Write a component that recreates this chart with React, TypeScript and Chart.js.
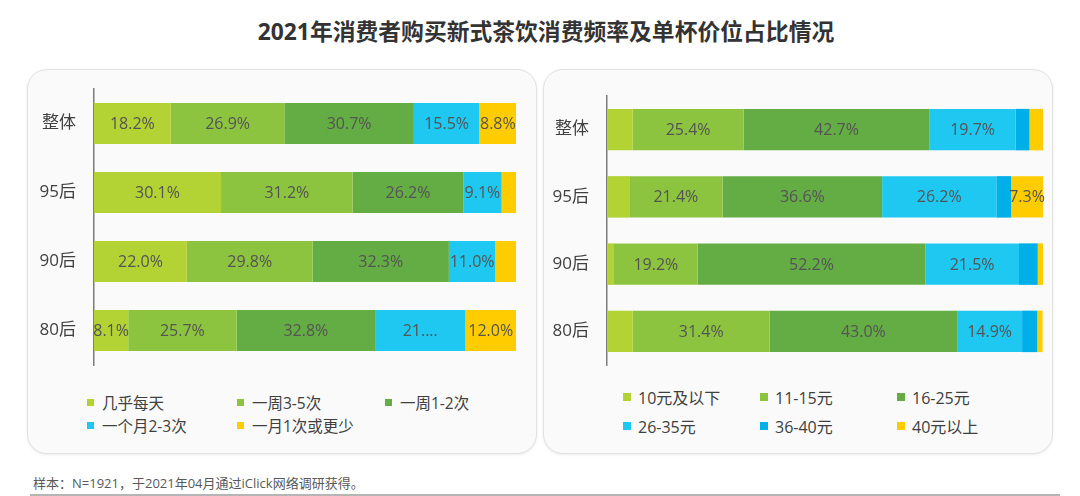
import React, { useEffect, useRef } from "react";
import { Chart, registerables } from "chart.js";

Chart.register(...registerables);

const TITLE = "2021年消费者购买新式茶饮消费频率及单杯价位占比情况";
const FOOTNOTE = "样本：N=1921，于2021年04月通过iClick网络调研获得。";

const categories = ["整体", "95后", "90后", "80后"];

// Left chart: consumption frequency
const freqSeries = ["几乎每天", "一周3-5次", "一周1-2次", "一个月2-3次", "一月1次或更少"];
const freqDaily = [18.2, 30.1, 22.0, 8.1];
const freqWeek35 = [26.9, 31.2, 29.8, 25.7];
const freqWeek12 = [30.7, 26.2, 32.3, 32.8];
const freqMonth23 = [15.5, 9.1, 11.0, 21.4];
const freqMonth1 = [8.8, 3.4, 4.9, 12.0];
const freqColors = ["#B3D234", "#8DC43F", "#64AD44", "#1EC8F1", "#FFCC00"];
const freqLabelOverrides: Record<string, string> = { "3-3": "21...." };

// Right chart: price per cup
const priceSeries = ["10元及以下", "11-15元", "16-25元", "26-35元", "36-40元", "40元以上"];
const priceUnder10 = [5.9, 5.1, 1.6, 5.9];
const price11to15 = [25.4, 21.4, 19.2, 31.4];
const price16to25 = [42.7, 36.6, 52.2, 43.0];
const price26to35 = [19.7, 26.2, 21.5, 14.9];
const price36to40 = [3.2, 3.4, 4.3, 3.5];
const priceOver40 = [3.1, 7.3, 1.2, 1.2];
const priceColors = ["#B3D234", "#8DC43F", "#64AD44", "#1EC8F1", "#00AEE8", "#FFCC00"];

const LABEL_MIN = 7;
const FONT = "'Open Sans', 'Noto Sans CJK SC', sans-serif";

const labelPlugin = (overrides: Record<string, string>) => ({
  id: "segLabels",
  afterDatasetsDraw(chart: any) {
    const ctx = chart.ctx;
    ctx.save();
    ctx.font = `16px ${FONT}`;
    ctx.fillStyle = "#545454";
    ctx.textAlign = "center";
    ctx.textBaseline = "middle";
    chart.data.datasets.forEach((ds: any, di: number) => {
      const meta = chart.getDatasetMeta(di);
      meta.data.forEach((el: any, i: number) => {
        const v = ds.data[i];
        if (v < LABEL_MIN) return;
        const key = `${di}-${i}`;
        const text = overrides[key] ?? `${v.toFixed(1)}%`;
        const cx = (el.x + el.base) / 2;
        ctx.fillText(text, cx, el.y + 1);
      });
    });
    ctx.restore();
  },
});

function makeConfig(
  series: string[],
  values: number[][],
  colors: string[],
  barPct: number,
  axisWidth: number,
  padding: { top: number; right: number; bottom: number },
  overrides: Record<string, string>
): any {
  return {
    type: "bar",
    data: {
      labels: categories,
      datasets: series.map((name, i) => ({
        label: name,
        data: values[i],
        backgroundColor: colors[i],
        borderWidth: 0,
        categoryPercentage: 1,
        barPercentage: barPct,
      })),
    },
    options: {
      indexAxis: "y",
      animation: false,
      responsive: false,
      maintainAspectRatio: false,
      layout: { padding: { left: 0, ...padding } },
      plugins: { legend: { display: false }, tooltip: { enabled: false } },
      scales: {
        x: { stacked: true, min: 0, max: 100, display: false },
        y: {
          stacked: true,
          grid: { display: false, drawTicks: false },
          border: { display: true, color: "#7c7c7c", width: 1.5 },
          ticks: {
            color: "#404040",
            padding: 18,
            font: { size: 17, family: FONT },
          },
          afterFit: (scale: any) => {
            scale.width = axisWidth;
            scale.paddingTop = 0;
            scale.paddingBottom = 0;
          },
        },
      },
    },
    plugins: [labelPlugin(overrides)],
  };
}

function BarCanvas(props: {
  left: number;
  top: number;
  width: number;
  height: number;
  config: any;
}) {
  const ref = useRef<HTMLCanvasElement | null>(null);
  useEffect(() => {
    if (!ref.current) return;
    const chart = new Chart(ref.current, props.config);
    return () => chart.destroy();
  }, []);
  return (
    <canvas
      ref={ref}
      width={props.width}
      height={props.height}
      style={{
        position: "absolute",
        left: props.left,
        top: props.top,
        width: props.width,
        height: props.height,
      }}
    />
  );
}

function Legend(props: {
  series: string[];
  colors: string[];
  cols: number[];
  rows: number[];
  sq: number;
  fontSize: number;
  perRow: number;
}) {
  return (
    <>
      {props.series.map((name, i) => {
        const c = i % props.perRow;
        const r = Math.floor(i / props.perRow);
        return (
          <div
            key={name}
            style={{
              position: "absolute",
              left: props.cols[c],
              top: props.rows[r] - 11,
              height: 22,
              display: "flex",
              alignItems: "center",
              whiteSpace: "nowrap",
              fontSize: props.fontSize,
              color: "#404040",
            }}
          >
            <span
              style={{
                display: "inline-block",
                width: props.sq,
                height: props.sq,
                background: props.colors[i],
                marginRight: 15 - props.sq,
              }}
            />
            <span>{name}</span>
          </div>
        );
      })}
    </>
  );
}

const panelStyle = (left: number): React.CSSProperties => ({
  position: "absolute",
  left,
  top: 69,
  width: 510,
  height: 385,
  borderRadius: 20,
  background: "#fafafa",
  border: "1.5px solid #e2e2e2",
  boxShadow: "0 1px 3px rgba(0,0,0,0.08)",
  boxSizing: "border-box",
});

export default function App() {
  const leftConfig = makeConfig(
    freqSeries,
    [freqDaily, freqWeek35, freqWeek12, freqMonth23, freqMonth1],
    freqColors,
    0.594,
    64,
    { top: 19, right: 14, bottom: 5 },
    freqLabelOverrides
  );
  const rightConfig = makeConfig(
    priceSeries,
    [priceUnder10, price11to15, price16to25, price26to35, price36to40, priceOver40],
    priceColors,
    0.617,
    62,
    { top: 26, right: 12, bottom: 5 },
    {}
  );
  return (
    <div
      style={{
        position: "fixed",
        left: 0,
        top: 0,
        width: 1080,
        height: 496,
        background: "#ffffff",
        overflow: "hidden",
        fontFamily: FONT,
      }}
    >
      <div
        style={{
          position: "absolute",
          left: 0,
          top: 16,
          width: 1092,
          textAlign: "center",
          fontSize: 22.8,
          fontWeight: 700,
          color: "#333333",
          whiteSpace: "nowrap",
          lineHeight: "32px",
        }}
      >
        {TITLE}
      </div>
      <div style={panelStyle(27)} />
      <div style={panelStyle(543)} />
      <BarCanvas left={30} top={70} width={500} height={300} config={leftConfig} />
      <BarCanvas left={545} top={70} width={510} height={300} config={rightConfig} />
      <Legend
        series={freqSeries}
        colors={freqColors}
        cols={[87, 237, 385]}
        rows={[402, 425.5]}
        sq={7}
        fontSize={15.5}
        perRow={3}
      />
      <Legend
        series={priceSeries}
        colors={priceColors}
        cols={[623, 760, 897]}
        rows={[397, 426]}
        sq={8}
        fontSize={16}
        perRow={3}
      />
      <div
        style={{
          position: "absolute",
          left: 33,
          top: 475,
          fontSize: 13,
          lineHeight: "16px",
          color: "#595959",
          whiteSpace: "nowrap",
        }}
      >
        {FOOTNOTE}
      </div>
      <div
        style={{
          position: "absolute",
          left: 30,
          top: 494,
          width: 1030,
          height: 2,
          background: "#b5b5b5",
        }}
      />
    </div>
  );
}
